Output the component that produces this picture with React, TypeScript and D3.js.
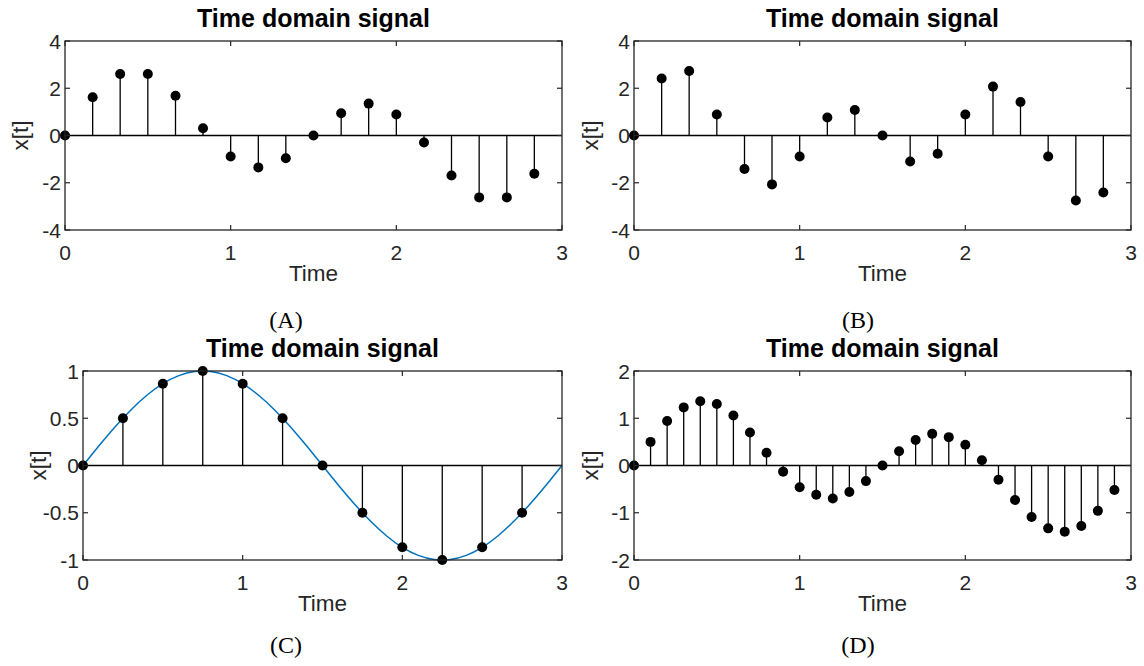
import React, { useRef, useEffect } from 'react';
import * as d3 from 'd3';

const timeA = [0, 0.167, 0.333, 0.5, 0.667, 0.833, 1, 1.167, 1.333, 1.5, 1.667, 1.833, 2, 2.167, 2.333, 2.5, 2.667, 2.833];
const valuesA = [0, 1.62, 2.6, 2.6, 1.68, 0.31, -0.89, -1.35, -0.96, 0, 0.94, 1.35, 0.89, -0.3, -1.69, -2.62, -2.62, -1.62];

const timeB = timeA;
const valuesB = [0, 2.41, 2.73, 0.89, -1.42, -2.07, -0.89, 0.76, 1.08, 0, -1.1, -0.77, 0.89, 2.07, 1.42, -0.89, -2.75, -2.41];

const timeC = [0, 0.25, 0.5, 0.75, 1, 1.25, 1.5, 1.75, 2, 2.25, 2.5, 2.75];
const valuesC = [0, 0.5, 0.866, 1, 0.866, 0.5, 0, -0.5, -0.866, -1, -0.866, -0.5];

// continuous reference curve in panel C
const curveTimeC = [0, 0.1, 0.2, 0.3, 0.4, 0.5, 0.6, 0.7, 0.8, 0.9, 1, 1.1, 1.2, 1.3, 1.4, 1.5,
  1.6, 1.7, 1.8, 1.9, 2, 2.1, 2.2, 2.3, 2.4, 2.5, 2.6, 2.7, 2.8, 2.9, 3];
const curveValuesC = [0, 0.208, 0.407, 0.588, 0.743, 0.866, 0.951, 0.995, 0.995, 0.951, 0.866, 0.743, 0.588, 0.407, 0.208, 0,
  -0.208, -0.407, -0.588, -0.743, -0.866, -0.951, -0.995, -0.995, -0.951, -0.866, -0.743, -0.588, -0.407, -0.208, 0];

const timeD = [0, 0.1, 0.2, 0.3, 0.4, 0.5, 0.6, 0.7, 0.8, 0.9, 1, 1.1, 1.2, 1.3, 1.4,
  1.5, 1.6, 1.7, 1.8, 1.9, 2, 2.1, 2.2, 2.3, 2.4, 2.5, 2.6, 2.7, 2.8, 2.9];
const valuesD = [0, 0.5, 0.94, 1.23, 1.36, 1.3, 1.06, 0.7, 0.27, -0.13, -0.46, -0.62, -0.7, -0.56, -0.33,
  0, 0.3, 0.54, 0.67, 0.6, 0.44, 0.11, -0.3, -0.73, -1.09, -1.33, -1.4, -1.28, -0.96, -0.52];

const xTicks = [0, 1, 2, 3];
const yTicksAB = [-4, -2, 0, 2, 4];
const yTicksC = [-1, -0.5, 0, 0.5, 1];
const yTicksD = [-2, -1, 0, 1, 2];

const captions = ['(A)', '(B)', '(C)', '(D)'];

const FONT = '"Liberation Sans", Arial, Helvetica, sans-serif';
const AXIS_COLOR = '#262626';

const App = () => {
  const svgRef = useRef(null);

  useEffect(() => {
    const svg = d3.select(svgRef.current);
    svg.selectAll('*').remove();

    const panels = [
      { t: timeA, v: valuesA, yTicks: yTicksAB, box: [65, 41, 562, 230], ylabelX: 20, capX: 286, capY: 328 },
      { t: timeB, v: valuesB, yTicks: yTicksAB, box: [634, 41, 1131, 230], ylabelX: 590, capX: 858, capY: 328 },
      { t: timeC, v: valuesC, yTicks: yTicksC, box: [83, 371, 562, 560], ylabelX: 38, capX: 286, capY: 653,
        curve: { t: curveTimeC, v: curveValuesC } },
      { t: timeD, v: valuesD, yTicks: yTicksD, box: [634, 371, 1131, 560], ylabelX: 590, capX: 858, capY: 653 },
    ];

    panels.forEach((p, i) => {
      const [x0, y0, x1, y1] = p.box;
      const x = d3.scaleLinear().domain([0, 3]).range([x0, x1]);
      const y = d3.scaleLinear().domain(d3.extent(p.yTicks)).range([y1, y0]);
      const g = svg.append('g');

      // zero baseline
      g.append('line')
        .attr('x1', x0).attr('x2', x1)
        .attr('y1', y(0)).attr('y2', y(0))
        .attr('stroke', '#000').attr('stroke-width', 1.3);

      if (p.curve) {
        const line = d3.line()
          .x((d) => x(d[0]))
          .y((d) => y(d[1]))
          .curve(d3.curveNatural);
        g.append('path')
          .datum(p.curve.t.map((tt, k) => [tt, p.curve.v[k]]))
          .attr('fill', 'none')
          .attr('stroke', '#0072BD')
          .attr('stroke-width', 1.5)
          .attr('d', line);
      }

      // stems
      g.selectAll('.stem')
        .data(p.t)
        .enter()
        .append('line')
        .attr('x1', (d) => x(d)).attr('x2', (d) => x(d))
        .attr('y1', y(0)).attr('y2', (d, k) => y(p.v[k]))
        .attr('stroke', '#000').attr('stroke-width', 1.3);

      // markers
      g.selectAll('.dot')
        .data(p.t)
        .enter()
        .append('circle')
        .attr('cx', (d) => x(d))
        .attr('cy', (d, k) => y(p.v[k]))
        .attr('r', 5)
        .attr('fill', '#000');

      // axes box
      g.append('rect')
        .attr('x', x0).attr('y', y0)
        .attr('width', x1 - x0).attr('height', y1 - y0)
        .attr('fill', 'none')
        .attr('stroke', AXIS_COLOR)
        .attr('stroke-width', 1.3);

      // ticks on all four sides, pointing inward
      const tl = 5;
      xTicks.forEach((tv) => {
        g.append('line').attr('x1', x(tv)).attr('x2', x(tv)).attr('y1', y1).attr('y2', y1 - tl)
          .attr('stroke', AXIS_COLOR).attr('stroke-width', 1.2);
        g.append('line').attr('x1', x(tv)).attr('x2', x(tv)).attr('y1', y0).attr('y2', y0 + tl)
          .attr('stroke', AXIS_COLOR).attr('stroke-width', 1.2);
        g.append('text')
          .attr('x', x(tv)).attr('y', y1 + 30)
          .attr('text-anchor', 'middle')
          .attr('font-family', FONT).attr('font-size', 21)
          .attr('fill', AXIS_COLOR)
          .text(tv);
      });
      p.yTicks.forEach((tv) => {
        g.append('line').attr('x1', x0).attr('x2', x0 + tl).attr('y1', y(tv)).attr('y2', y(tv))
          .attr('stroke', AXIS_COLOR).attr('stroke-width', 1.2);
        g.append('line').attr('x1', x1).attr('x2', x1 - tl).attr('y1', y(tv)).attr('y2', y(tv))
          .attr('stroke', AXIS_COLOR).attr('stroke-width', 1.2);
        g.append('text')
          .attr('x', x0 - 4).attr('y', y(tv))
          .attr('dy', '0.36em')
          .attr('text-anchor', 'end')
          .attr('font-family', FONT).attr('font-size', 21)
          .attr('fill', AXIS_COLOR)
          .text(tv);
      });

      // title
      g.append('text')
        .attr('x', (x0 + x1) / 2).attr('y', y0 - 14)
        .attr('text-anchor', 'middle')
        .attr('font-family', FONT).attr('font-size', 25)
        .attr('font-weight', 'bold')
        .attr('fill', '#000')
        .text('Time domain signal');

      // x label
      g.append('text')
        .attr('x', (x0 + x1) / 2).attr('y', y1 + 51)
        .attr('text-anchor', 'middle')
        .attr('font-family', FONT).attr('font-size', 22.5)
        .attr('fill', AXIS_COLOR)
        .text('Time');

      // y label
      g.append('text')
        .attr('transform', `translate(${p.ylabelX + 8},${(y0 + y1) / 2}) rotate(-90)`)
        .attr('text-anchor', 'middle')
        .attr('font-family', FONT).attr('font-size', 22.5)
        .attr('fill', AXIS_COLOR)
        .text('x[t]');

      // caption
      g.append('text')
        .attr('x', p.capX).attr('y', p.capY)
        .attr('text-anchor', 'middle')
        .attr('font-family', '"Liberation Serif", "Times New Roman", serif')
        .attr('font-size', 24)
        .attr('fill', '#000')
        .text(captions[i]);
    });
  }, []);

  return (
    <svg
      ref={svgRef}
      width={1144}
      height={666}
      style={{ position: 'absolute', left: 0, top: 0, background: '#fff' }}
    ></svg>
  );
};

export default App;
